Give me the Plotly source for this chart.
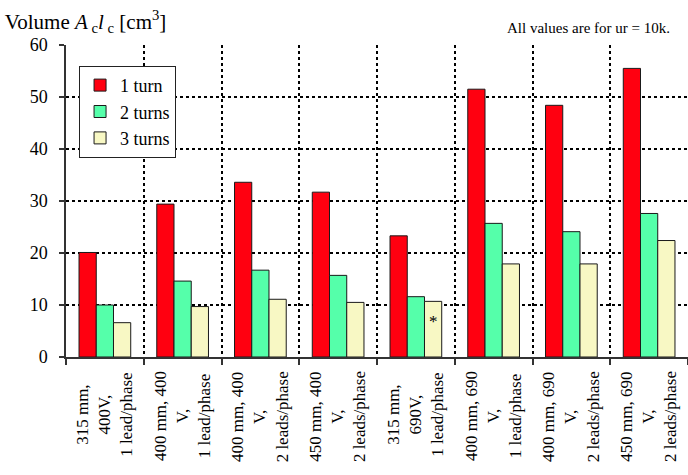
import plotly.graph_objects as go

# Machine variants (one label per group, wrapped over three lines)
categories = [
    "315 mm,<br>400V,<br>1 lead/phase",
    "400 mm, 400<br>V,<br>1 lead/phase",
    "400 mm, 400<br>V,<br>2 leads/phase",
    "450 mm, 400<br>V,<br>2 leads/phase",
    "315 mm,<br>690V,<br>1 lead/phase",
    "400 mm, 690<br>V,<br>1 lead/phase",
    "400 mm, 690<br>V,<br>2 leads/phase",
    "450 mm, 690<br>V,<br>2 leads/phase",
]

# Core volume A_c * l_c in cm^3
one_turn = [20.1, 29.4, 33.6, 31.7, 23.3, 51.5, 48.4, 55.5]
two_turns = [10.0, 14.6, 16.7, 15.7, 11.6, 25.7, 24.1, 27.6]
three_turns = [6.6, 9.7, 11.1, 10.5, 10.7, 17.9, 17.9, 22.4]

series_names = ["1 turn", "2 turns", "3 turns"]
y_ticks = [0, 10, 20, 30, 40, 50, 60]

FONT = "Liberation Serif"

fig = go.Figure()
for name, vals, color in zip(series_names,
                             [one_turn, two_turns, three_turns],
                             ["#FF0010", "#55FFAA", "#F8F8C4"]):
    fig.add_trace(go.Bar(
        x=categories, y=vals, name=name,
        marker=dict(color=color, line=dict(color="#1a1a1a", width=1)),
    ))

# Category labels drawn rotated with centred lines
annotations = []
for cat in categories:
    annotations.append(dict(
        x=cat, xref="x", y=-0.04, yref="paper",
        text=cat, textangle=-90, showarrow=False,
        xanchor="center", yanchor="top", align="center",
        font=dict(family=FONT, size=17, color="black"),
    ))

# Footnote marker on the 3-turn bar of the 315 mm / 690 V variant
annotations.append(dict(
    x=categories[4], xref="x", xshift=18, y=6.9, yref="y",
    text="*", showarrow=False, xanchor="center", yanchor="middle",
    font=dict(family=FONT, size=17, color="black"),
))

annotations.append(dict(
    x=0.974, xref="paper", y=1.054, yref="paper",
    text="All values are for ur = 10k.", showarrow=False,
    xanchor="right", yanchor="middle",
    font=dict(family=FONT, size=15, color="black"),
))

fig.update_layout(
    width=688, height=475,
    margin=dict(l=66, r=0, t=45, b=118),
    paper_bgcolor="white", plot_bgcolor="white",
    barmode="group", bargap=0.335, bargroupgap=0,
    font=dict(family=FONT, size=17, color="black"),
    title=dict(
        text="Volume <i>A</i><sub> c</sub><i>l</i><sub> c</sub> [cm<sup>3</sup>]",
        xref="container", yref="container", x=0.007, xanchor="left",
        y=0.955, yanchor="middle",
        font=dict(family=FONT, size=21, color="black"),
    ),
    legend=dict(
        x=0.021, xanchor="left", y=0.933, yanchor="top",
        bgcolor="white", bordercolor="#222", borderwidth=1,
        font=dict(family=FONT, size=18, color="black"),
        itemwidth=30, tracegroupgap=0,
    ),
    annotations=annotations,
    showlegend=True,
)

fig.update_xaxes(
    type="category", showticklabels=False,
    tickson="boundaries", ticks="outside", ticklen=6, tickwidth=1.5,
    tickcolor="#333",
    showgrid=True, gridcolor="black", gridwidth=2, griddash="dot",
    showline=True, linecolor="#333", linewidth=1.5,
    zeroline=False,
)
fig.update_yaxes(
    range=[0, 60], tickvals=y_ticks, ticks="outside", ticklen=5,
    tickwidth=1.5, tickcolor="#333", ticklabelstandoff=8,
    showgrid=True, gridcolor="black", gridwidth=2, griddash="dot",
    showline=True, linecolor="#333", linewidth=1.5,
    zeroline=False,
    tickfont=dict(family=FONT, size=18, color="black"),
)

fig.write_html("out.html")
